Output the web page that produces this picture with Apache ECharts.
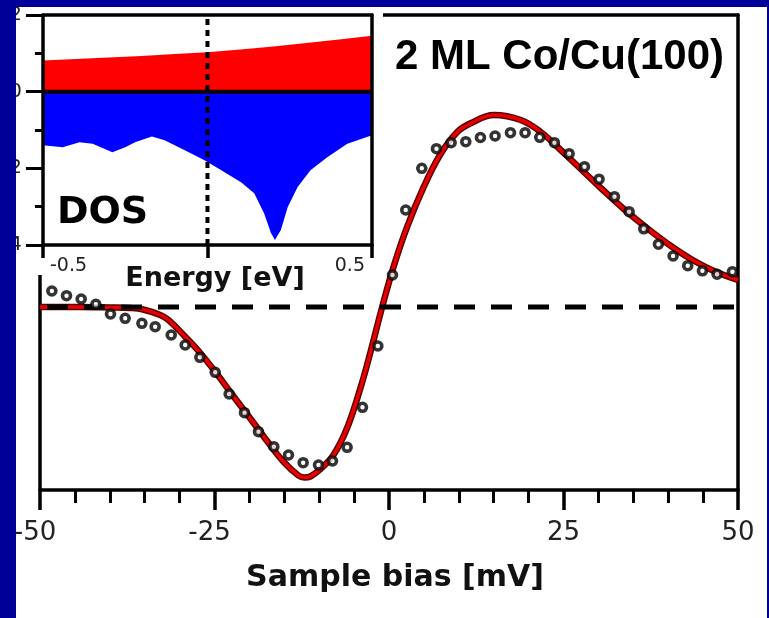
<!DOCTYPE html>
<html>
<head>
<meta charset="utf-8">
<script src="https://cdn.jsdelivr.net/npm/echarts@6/dist/echarts.min.js"></script>
<style>html,body{margin:0;padding:0;background:#fff;}#c{width:769px;height:618px;}</style>
</head>
<body>
<div id="c"></div>
<script>
// ---- Main panel: sample bias (mV) ----
const biasTicks = [-50, -25, 0, 25, 50];
const dotX = [-48.3, -46.2, -44.1, -42.0, -39.9, -37.8, -35.4, -33.5, -31.2, -29.2, -27.1, -24.9, -22.9, -20.7, -18.7, -16.5, -14.4, -12.3, -10.1, -8.1, -6.0, -3.8, -1.6, 0.5, 2.4, 4.7, 6.8, 8.9, 11.0, 13.1, 15.2, 17.4, 19.5, 21.6, 23.7, 25.8, 28.0, 30.1, 32.3, 34.4, 36.5, 38.6, 40.7, 42.8, 44.9, 47.0, 49.2];
const dotY = [1.6, 1.13, 0.8, 0.27, -0.7, -1.13, -1.63, -1.97, -2.8, -3.8, -5.03, -6.53, -8.7, -10.57, -12.47, -13.97, -14.8, -15.57, -15.8, -15.4, -14.03, -10.03, -3.9, 3.2, 9.7, 13.87, 15.83, 16.43, 16.53, 16.95, 17.1, 17.43, 17.43, 16.97, 16.43, 15.33, 14.03, 12.78, 11.03, 9.53, 7.82, 6.28, 5.1, 4.13, 3.62, 3.28, 3.53];
const fitX = [-50, -44.26, -39.96, -37.09, -35.22, -32.78, -31.59, -29.2, -27.04, -24.65, -22.31, -19.87, -17.47, -15.14, -12.98, -12.12, -11.26, -9.83, -7.96, -6.0, -4.09, -2.65, -0.98, 0.69, 2.61, 4.99, 7.39, 9.78, 11.69, 15.04, 18.87, 21.74, 24.6, 27.47, 30.34, 33.64, 37.04, 40.39, 43.26, 46.56, 50];
const fitY = [0, 0, -0.05, -0.1, -0.25, -0.8, -1.3, -2.97, -4.6, -6.7, -8.9, -11.15, -13.4, -15.45, -16.85, -17.05, -16.95, -16.2, -14.8, -12.1, -8.1, -4.5, 0, 4.1, 8.03, 12.03, 15.3, 17.5, 18.37, 19.2, 18.7, 17.5, 15.7, 13.8, 11.9, 9.8, 7.85, 6.1, 4.8, 3.6, 2.7];
const zeroLineX = [-50, 50];
const zeroLineY = [0, 0];

// ---- Inset: DOS vs energy (eV) ----
const energyTicks = [-0.5, 0, 0.5];
const dosTicks = [2, 0, -2, -4];
const majX = [-0.5, -0.4, -0.3, -0.2, -0.1, 0, 0.1, 0.2, 0.3, 0.4, 0.5];
const majY = [0.81, 0.85, 0.89, 0.93, 0.98, 1.03, 1.10, 1.18, 1.27, 1.36, 1.46];
const minX = [-0.5, -0.44, -0.389, -0.349, -0.289, -0.25, -0.22, -0.169, -0.13, -0.069, -0.009, 0.042, 0.102, 0.142, 0.172, 0.193, 0.205, 0.223, 0.244, 0.274, 0.313, 0.364, 0.425, 0.5];
const minY = [-1.40, -1.45, -1.32, -1.36, -1.58, -1.45, -1.32, -1.17, -1.27, -1.53, -1.79, -2.05, -2.36, -2.65, -3.17, -3.69, -3.87, -3.61, -3.01, -2.49, -2.05, -1.71, -1.36, -1.14];

const pair = (xs, ys) => xs.map((x, i) => [x, ys[i]]);
const FONT = '"DejaVu Sans", Verdana, sans-serif';
const plain = { show: false };

const chart = echarts.init(document.getElementById('c'), null, { renderer: 'canvas' });
chart.setOption({
  backgroundColor: '#ffffff',
  animation: false,
  grid: [
    { left: 40, right: 31, top: 15, bottom: 128 },
    { left: 41, top: 15, width: 331, height: 230 }
  ],
  xAxis: [
    { gridIndex: 0, type: 'value', min: -50, max: 50, interval: 25, position: 'bottom', z: 0,
      axisLine: { show: true, onZero: false, lineStyle: { color: '#000', width: 3.5 } },
      axisTick: { show: true, inside: false, length: 20, lineStyle: { color: '#000', width: 3.5 } },
      minorTick: { show: true, splitNumber: 5, length: 13, lineStyle: { color: '#000', width: 3 } },
      splitLine: plain, minorSplitLine: plain,
      axisLabel: { margin: 30, color: '#222', fontSize: 26, fontFamily: FONT,
        formatter: v => v < 0 ? '{n|' + v + '}' : String(v),
        rich: { n: { fontSize: 26, fontFamily: FONT, color: '#222', padding: [0, 10, 0, 0] } } },
      name: 'Sample bias [mV]', nameLocation: 'middle', nameGap: 73,
      nameTextStyle: { fontSize: 30, fontWeight: 'bold', fontFamily: FONT, color: '#111', padding: [0, 0, 0, 12] } },
    { gridIndex: 0, type: 'value', min: -50, max: 50, position: 'top', z: 0,
      axisLine: { show: true, onZero: false, lineStyle: { color: '#000', width: 3.5 } },
      axisTick: plain, axisLabel: plain, splitLine: plain },
    { gridIndex: 1, type: 'value', min: -0.5, max: 0.5, interval: 0.5, position: 'bottom', z: 6,
      axisLine: { show: true, onZero: false, lineStyle: { color: '#000', width: 3.5 } },
      axisTick: { show: true, inside: false, length: 13, lineStyle: { color: '#000', width: 3.5 } },
      splitLine: plain,
      axisLabel: { margin: 12, color: '#222', fontSize: 19, fontFamily: FONT,
        alignMinLabel: 'left', alignMaxLabel: 'right', padding: [0, 7, 0, 7],
        formatter: v => (v === 0 ? '' : String(v)) } },
    { gridIndex: 1, type: 'value', min: -0.5, max: 0.5, position: 'top', z: 6,
      axisLine: { show: true, onZero: false, lineStyle: { color: '#000', width: 3.5 } },
      axisTick: plain, axisLabel: plain, splitLine: plain }
  ],
  yAxis: [
    { gridIndex: 0, type: 'value', min: -18.3, max: 29.2, position: 'left', z: 0,
      axisLine: { show: true, onZero: false, lineStyle: { color: '#000', width: 3.5 } },
      axisTick: plain, axisLabel: plain, splitLine: plain },
    { gridIndex: 0, type: 'value', min: -18.3, max: 29.2, position: 'right', z: 0,
      axisLine: { show: true, onZero: false, lineStyle: { color: '#000', width: 3.5 } },
      axisTick: plain, axisLabel: plain, splitLine: plain },
    { gridIndex: 1, type: 'value', min: -4, max: 2, interval: 2, position: 'left', z: 6,
      axisLine: { show: true, onZero: false, lineStyle: { color: '#000', width: 3.5 } },
      axisTick: { show: true, inside: false, length: 17, lineStyle: { color: '#000', width: 3 } },
      minorTick: { show: true, splitNumber: 2, length: 8, lineStyle: { color: '#000', width: 3 } },
      splitLine: plain, minorSplitLine: plain,
      axisLabel: { margin: 21, color: '#222', fontSize: 19, fontFamily: FONT } },
    { gridIndex: 1, type: 'value', min: -4, max: 2, position: 'right', z: 6,
      axisLine: { show: true, onZero: false, lineStyle: { color: '#000', width: 3.5 } },
      axisTick: plain, axisLabel: plain, splitLine: plain }
  ],
  series: [
    { type: 'line', xAxisIndex: 0, yAxisIndex: 0, z: 1, data: pair(fitX, fitY), smooth: 0.4,
      symbol: 'none', lineStyle: { color: '#5a0000', width: 6.5 } },
    { type: 'line', xAxisIndex: 0, yAxisIndex: 0, z: 1.2, data: pair(fitX, fitY), smooth: 0.4,
      symbol: 'none', lineStyle: { color: '#e80000', width: 3.5 } },
    { type: 'line', xAxisIndex: 0, yAxisIndex: 0, z: 1.4, data: pair(zeroLineX, zeroLineY),
      symbol: 'none', lineStyle: { color: '#000', width: 5, type: [21, 16], dashOffset: 30 } },
    { type: 'scatter', xAxisIndex: 0, yAxisIndex: 0, z: 1.6, data: pair(dotX, dotY),
      symbol: 'circle', symbolSize: 8,
      itemStyle: { color: '#fff', borderColor: '#000', borderWidth: 3.6 } },

    { type: 'line', xAxisIndex: 2, yAxisIndex: 2, z: 5, data: pair(majX, majY),
      symbol: 'none', lineStyle: { width: 0 }, areaStyle: { color: '#ff0000', opacity: 1 } },
    { type: 'line', xAxisIndex: 2, yAxisIndex: 2, z: 5, data: pair(minX, minY),
      symbol: 'none', lineStyle: { width: 0 }, areaStyle: { color: '#0000ff', opacity: 1 } },
    { type: 'line', xAxisIndex: 2, yAxisIndex: 2, z: 5.5, data: [[energyTicks[0], 0], [energyTicks[2], 0]],
      symbol: 'none', lineStyle: { color: '#000', width: 4 } },
    { type: 'line', xAxisIndex: 2, yAxisIndex: 2, z: 5.5, data: [[0, dosTicks[3]], [0, dosTicks[0]]],
      symbol: 'none', lineStyle: { color: '#000', width: 4, type: [6, 5] } }
  ],
  graphic: [
    { type: 'rect', z: 3, shape: { x: 16, y: 7, width: 367, height: 268 }, style: { fill: '#fff' } },
    { type: 'text', z: 20, style: { x: 215, y: 279, text: 'Energy [eV]', font: 'bold 27px ' + FONT, fill: '#111', textAlign: 'center', textVerticalAlign: 'middle' } },
    { type: 'text', z: 20, style: { x: 57, y: 213, text: 'DOS', font: 'bold 38px ' + FONT, fill: '#000', textAlign: 'left', textVerticalAlign: 'middle' } },
    { type: 'text', z: 20, style: { x: 395, y: 57, text: '2 ML Co/Cu(100)', font: 'bold 42px "Liberation Sans", Arial, sans-serif', fill: '#000', textAlign: 'left', textVerticalAlign: 'middle' } },
    { type: 'rect', z: 50, shape: { x: 0, y: 0, width: 16, height: 618 }, style: { fill: '#000099' } },
    { type: 'rect', z: 50, shape: { x: 0, y: 0, width: 769, height: 7 }, style: { fill: '#000099' } },
    { type: 'rect', z: 50, shape: { x: 767, y: 0, width: 2, height: 618 }, style: { fill: '#000099' } }
  ]
});
</script>
</body>
</html>
